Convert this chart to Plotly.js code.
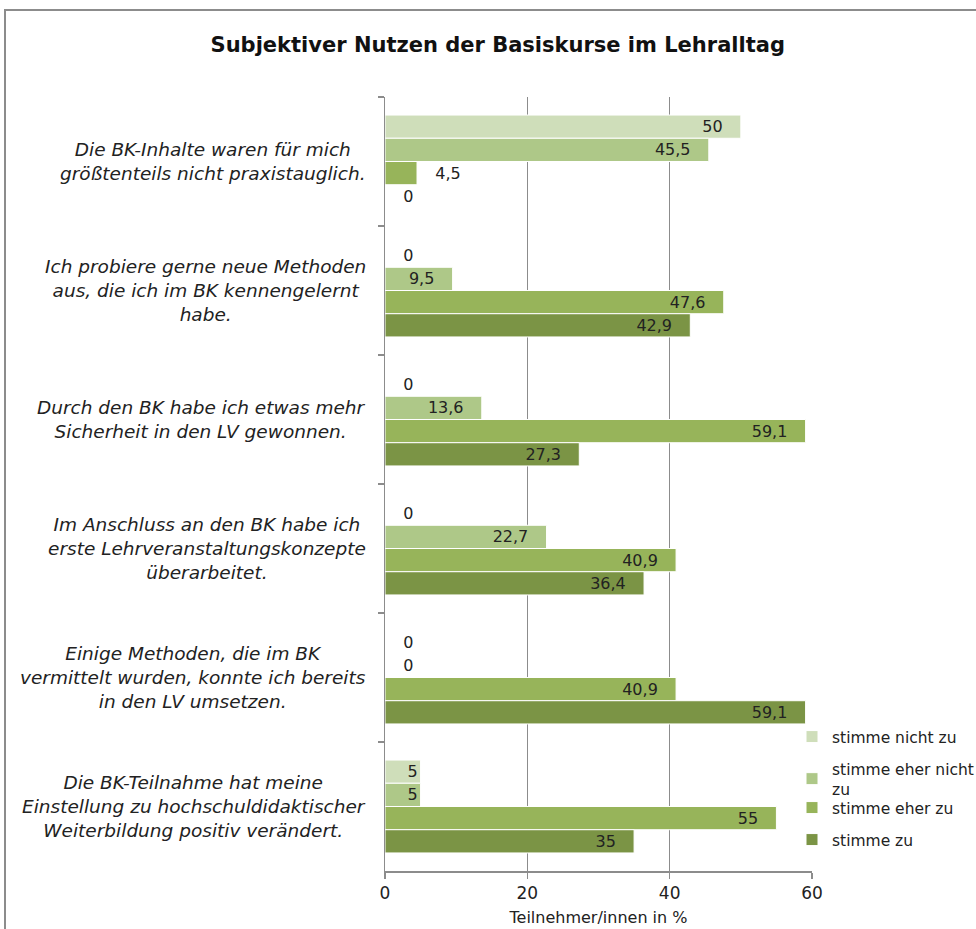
<!DOCTYPE html>
<html>
<head>
<meta charset="utf-8">
<script src="https://cdn.plot.ly/plotly-3.0.1.min.js"></script>
<style>
body{margin:0;padding:0;background:#fff;}
#frame{position:absolute;left:4px;top:9px;width:990px;height:940px;border:2px solid #8c8c8c;box-sizing:border-box;}
#chart{position:absolute;left:0;top:0;width:976px;height:929px;}
</style>
</head>
<body>
<div id="frame"></div>
<div id="chart"></div>
<script>
const categories = [
  "Die BK-Inhalte waren für mich<br>größtenteils nicht praxistauglich.",
  "Ich probiere gerne neue Methoden<br>aus, die ich im BK kennengelernt<br>habe.",
  "Durch den BK habe ich etwas mehr<br>Sicherheit in den LV gewonnen.",
  "Im Anschluss an den BK habe ich<br>erste Lehrveranstaltungskonzepte<br>überarbeitet.",
  "Einige Methoden, die im BK<br>vermittelt wurden, konnte ich bereits<br>in den LV umsetzen.",
  "Die BK-Teilnahme hat meine<br>Einstellung zu hochschuldidaktischer<br>Weiterbildung positiv verändert."
];
const seriesNames = ["stimme nicht zu", "stimme eher nicht<br>zu", "stimme eher zu", "stimme zu"];
const stimmeNichtZu = [50, 0, 0, 0, 0, 5];
const stimmeEherNichtZu = [45.5, 9.5, 13.6, 22.7, 0, 5];
const stimmeEherZu = [4.5, 47.6, 59.1, 40.9, 40.9, 55];
const stimmeZu = [0, 42.9, 27.3, 36.4, 59.1, 35];
const colors = ["#cfdeba", "#aec888", "#97b45a", "#7b9445"];
const xTicks = [0, 20, 40, 60];

const seriesValues = [stimmeNichtZu, stimmeEherNichtZu, stimmeEherZu, stimmeZu];
const FONT = "DejaVu Sans, Verdana, sans-serif";
const NB = "\u00a0";
const fmt = v => String(v).replace(".", ",");

// legend top positions (px) for each series
const legendTopPx = [720, 752, 791, 823];
const legendNames = ["legend", "legend2", "legend3", "legend4"];
const plotTop = 97, plotBottom = 871, plotH = plotBottom - plotTop;

const traces = seriesValues.map((vals, i) => ({
  type: "bar",
  orientation: "h",
  name: seriesNames[i],
  legend: legendNames[i],
  y: categories,
  x: vals,
  text: vals.map(v => v >= 9 ? fmt(v) + NB + NB + NB : (v >= 5 ? fmt(v) : NB + NB + NB + fmt(v))),
  textposition: vals.map(v => v >= 5 ? "inside" : "outside"),
  textangle: 0,
  insidetextanchor: "end",
  constraintext: "none",
  cliponaxis: false,
  textfont: {family: FONT, size: 16, color: "#222"},
  insidetextfont: {family: FONT, size: 16, color: "#222"},
  outsidetextfont: {family: FONT, size: 16, color: "#222"},
  marker: {color: colors[i], line: {color: "#ffffff", width: 1}},
  hoverinfo: "x+name"
}));

const annotations = categories.map(cat => ({
  xref: "paper", yref: "y",
  x: -0.039, y: cat,
  xanchor: "right", yanchor: "middle",
  text: "<i>" + cat + "</i>",
  showarrow: false,
  font: {family: FONT, size: 18.5, color: "#222"},
  align: "center"
}));

const layout = {
  width: 976, height: 929,
  paper_bgcolor: "rgba(0,0,0,0)",
  plot_bgcolor: "rgba(0,0,0,0)",
  margin: {l: 385, r: 164, t: 97, b: 58, autoexpand: false},
  separators: ",.",
  barmode: "group",
  bargap: 0.28,
  bargroupgap: 0,
  font: {family: FONT, color: "#222"},
  title: {
    text: "<b>Subjektiver Nutzen der Basiskurse im Lehralltag</b>",
    font: {family: FONT, size: 21, color: "#111"},
    x: 0.51, xanchor: "center",
    y: 1 - 45/929, yanchor: "middle"
  },
  xaxis: {
    range: [0, 60],
    tickvals: xTicks,
    ticktext: xTicks.map(String),
    showgrid: true, gridcolor: "#8c8c8c", gridwidth: 1.5,
    showline: true, linecolor: "#8c8c8c", linewidth: 1.5,
    ticks: "outside", ticklen: 6, tickcolor: "#8c8c8c", tickwidth: 1.5,
    tickfont: {family: FONT, size: 17, color: "#222"},
    zeroline: false,
    title: {text: "Teilnehmer/innen in %", font: {family: FONT, size: 16, color: "#222"}, standoff: 10}
  },
  yaxis: {
    type: "category",
    autorange: "reversed",
    showticklabels: false,
    ticks: "outside", tickson: "boundaries", ticklen: 6, tickcolor: "#8c8c8c", tickwidth: 1.5,
    showline: true, linecolor: "#8c8c8c", linewidth: 1.5,
    showgrid: false, zeroline: false
  },
  annotations: annotations,
  showlegend: true
};

legendNames.forEach((ln, i) => {
  layout[ln] = {
    x: (792 - 385) / 427, xanchor: "left",
    y: (plotBottom - legendTopPx[i]) / plotH, yanchor: "top",
    font: {family: FONT, size: 15.5, color: "#222"},
    itemwidth: 30,
    bgcolor: "rgba(0,0,0,0)",
    borderwidth: 0
  };
});

Plotly.newPlot("chart", traces, layout, {displayModeBar: false, staticPlot: true});
</script>
</body>
</html>
